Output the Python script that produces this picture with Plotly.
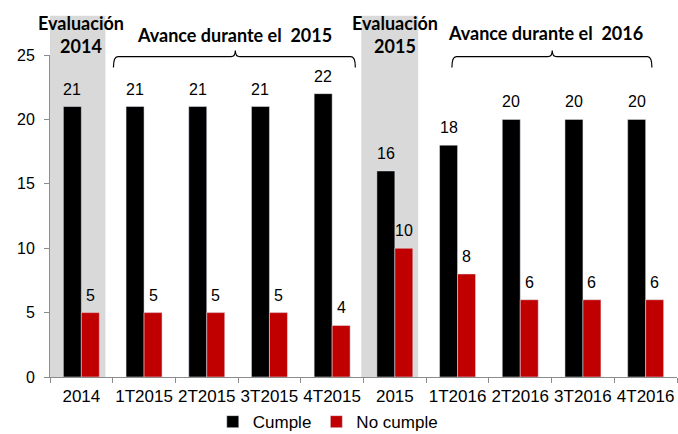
import plotly.graph_objects as go

categorias = ["2014", "1T2015", "2T2015", "3T2015", "4T2015",
              "2015", "1T2016", "2T2016", "3T2016", "4T2016"]
cumple = [21, 21, 21, 21, 22, 16, 18, 20, 20, 20]
no_cumple = [5, 5, 5, 5, 4, 10, 8, 6, 6, 6]
y_ticks = [0, 5, 10, 15, 20, 25]

BLACK = "#000000"
RED = "#C00000"
GREY_BAND = "#D9D9D9"
AXIS = "#8C8C8C"
FONT = "Liberation Sans"
BOLD_FONT = "Lato"
BARGAP = 0.426

fig = go.Figure()
fig.add_trace(go.Bar(x=categorias, y=cumple, name="Cumple", marker_color=BLACK))
fig.add_trace(go.Bar(x=categorias, y=no_cumple, name="No cumple", marker_color=RED))

off = (1 - BARGAP) / 4
annotations = []
for i, (c, n) in enumerate(zip(cumple, no_cumple)):
    for xv, v in ((i - off, c), (i + off, n)):
        annotations.append(dict(x=xv, y=v, xref="x", yref="y", text=str(v),
                                showarrow=False, yanchor="bottom", yshift=7,
                                font=dict(family=FONT, size=16, color="#000")))

# header texts
for xc, label in ((0, "Evaluación<br>2014"), (5, "Evaluación<br>2015")):
    annotations.append(dict(x=xc, y=1.065, xref="x", yref="paper", text=f"<b>{label}</b>",
                            showarrow=False, yanchor="middle",
                            font=dict(family=BOLD_FONT, size=18, color="#000")))
for xc, yc, label in ((2.45, 1.061, "Avance durante el  2015"), (7.4, 1.068, "Avance durante el  2016")):
    annotations.append(dict(x=xc, y=yc, xref="x", yref="paper", text=f"<b>{label}</b>",
                            showarrow=False, yanchor="middle",
                            font=dict(family=BOLD_FONT, size=18, color="#000")))

shapes = []
for x0, x1 in ((-0.524, 0.384), (4.464, 5.372)):
    shapes.append(dict(type="rect", xref="x", yref="paper", x0=x0, x1=x1, y0=0, y1=1.122,
                       fillcolor=GREY_BAND, line_width=0, layer="below"))


def brace(x0, x1, xm, d=0.07):
    ye, yh, yp = 0.961, 0.995, 1.014
    return (f"M{x0},{ye} Q{x0},{yh} {x0 + d},{yh} L{xm - d},{yh} "
            f"Q{xm},{yh} {xm},{yp} Q{xm},{yh} {xm + d},{yh} "
            f"L{x1 - d},{yh} Q{x1},{yh} {x1},{ye}")


for x0, x1, xm in ((0.512, 4.37, 2.456), (5.91, 9.1, 7.51)):
    shapes.append(dict(type="path", xref="x", yref="paper", path=brace(x0, x1, xm),
                       line=dict(color="#000", width=1.2), layer="above"))

fig.update_layout(
    width=678, height=434,
    margin=dict(l=49.5, r=1, t=54.5, b=56.5, autoexpand=False),
    paper_bgcolor="white", plot_bgcolor="rgba(0,0,0,0)",
    barmode="group", bargap=BARGAP, bargroupgap=0,
    font=dict(family=FONT, color="#000"),
    showlegend=True,
    legend=dict(orientation="h", x=0.443, xanchor="center", y=-0.14, yanchor="middle",
                font=dict(family=FONT, size=17), itemwidth=30, tracegroupgap=0,
                bgcolor="rgba(0,0,0,0)"),
    annotations=annotations,
    shapes=shapes,
)
fig.update_xaxes(type="category", range=[-0.5, len(categorias) - 0.5], autorange=False,
                 showline=True, linecolor=AXIS, linewidth=1,
                 ticks="outside", tickson="boundaries", ticklen=5, tickcolor=AXIS,
                 showgrid=False, tickangle=0, tickfont=dict(family=FONT, size=17),
                 ticklabelstandoff=4)
fig.update_yaxes(range=[0, 25], tickvals=y_ticks, showline=True, linecolor=AXIS, linewidth=1,
                 ticks="outside", ticklen=5, tickcolor=AXIS, showgrid=False, zeroline=False,
                 tickfont=dict(family=FONT, size=16), ticklabelstandoff=6)

fig.write_html("out.html", config={"displayModeBar": False},
               post_script="document.body.style.margin='0';document.body.style.overflow='hidden';")
